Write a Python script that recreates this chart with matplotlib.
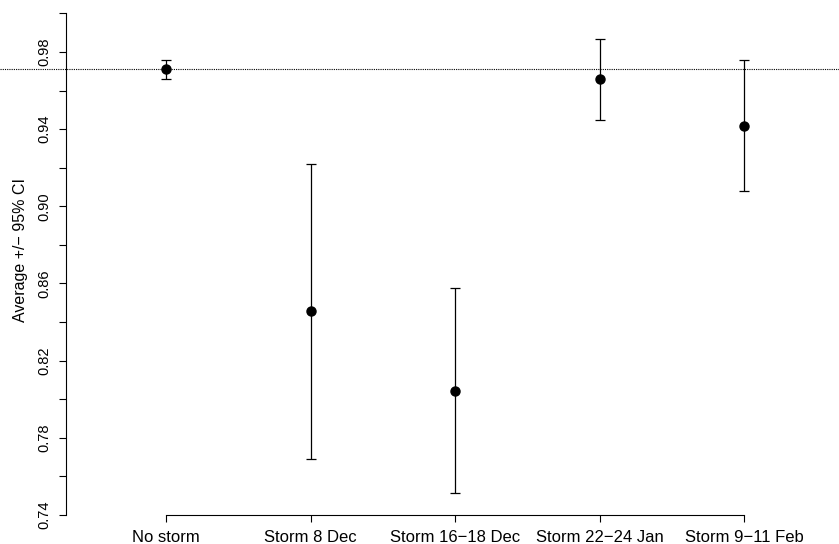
import matplotlib
matplotlib.use("Agg")
import matplotlib.pyplot as plt
import matplotlib.transforms as mtransforms
from matplotlib.lines import Line2D

categories = ["No storm", "Storm 8 Dec", "Storm 16\u221218 Dec", "Storm 22\u221224 Jan", "Storm 9\u221211 Feb"]
means = [0.9712, 0.8456, 0.8043, 0.9658, 0.9418]
lower = [0.9660, 0.7690, 0.7512, 0.9449, 0.9078]
upper = [0.9759, 0.9218, 0.8575, 0.9867, 0.9759]
reference = 0.9712
yticks = [0.74, 0.76, 0.78, 0.80, 0.82, 0.84, 0.86, 0.88, 0.90, 0.92, 0.94, 0.96, 0.98, 1.00]
ylabels_shown = ["0.74", "", "0.78", "", "0.82", "", "0.86", "", "0.90", "", "0.94", "", "0.98", ""]

plt.rcParams['font.family'] = ['Liberation Sans', 'DejaVu Sans']

fig = plt.figure(figsize=(8.39, 5.44), dpi=100)
ax = fig.add_axes([66/839, 29/544, 1 - 66/839, (515 - 13.4)/544])

x = list(range(1, len(categories) + 1))
yerr = [[m - l for m, l in zip(means, lower)], [u - m for m, u in zip(means, upper)]]
ax.errorbar(x, means, yerr=yerr, fmt='o', color='black', ecolor='black',
            elinewidth=0.9, capsize=3.3, capthick=0.9, markersize=6.5, zorder=3)

# dotted reference line across full figure width
trans = mtransforms.blended_transform_factory(fig.transFigure, ax.transData)
fig.add_artist(Line2D([0, 1], [reference, reference], transform=trans,
                      color='black', lw=0.8, linestyle=(0, (1, 1))))

ax.set_xlim(0.308, 5.657)
ax.set_ylim(0.74, 1.00)
ax.set_xticks(x)
ax.set_xticklabels(categories, fontsize=12)
ax.set_yticks(yticks)
ax.set_yticklabels(ylabels_shown, fontsize=10.5, rotation=90, va='center')
ax.tick_params(axis='both', direction='out', length=5.3, width=0.8, color='black')
ax.tick_params(axis='y', pad=5)
ax.tick_params(axis='x', pad=5.5)

for s in ['top', 'right']:
    ax.spines[s].set_visible(False)
ax.spines['bottom'].set_bounds(1, 5)
ax.spines['left'].set_bounds(0.74, 1.00)
ax.spines['left'].set_linewidth(0.8)
ax.spines['bottom'].set_linewidth(0.8)

ax.set_ylabel("Average +/\u2212 95% CI", fontsize=11.5)
ax.yaxis.label.set_va('center')
ax.yaxis.set_label_coords(-(66 - 21) / (839 - 66), (515 - 250.5) / (515 - 13.4))

fig.savefig("out.png", dpi=100)
